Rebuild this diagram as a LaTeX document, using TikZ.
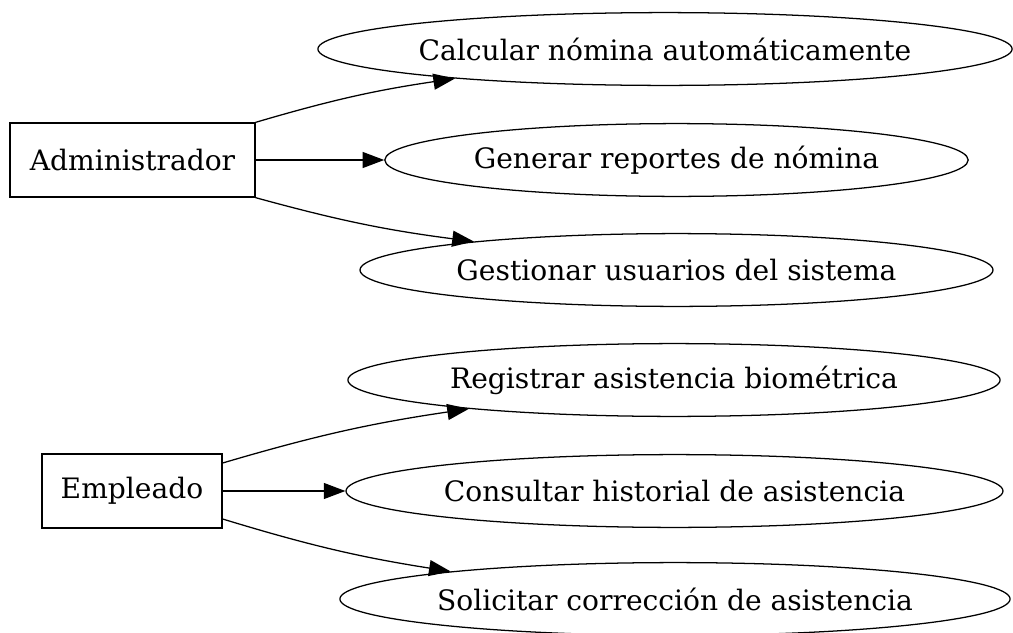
\documentclass[tikz,border=0pt]{standalone}
\usepackage{fontspec}
\setmainfont{DejaVu Serif}
\usetikzlibrary{shapes.geometric,arrows.meta}

\begin{document}
\begin{tikzpicture}[x=0.0125cm,y=-0.0125cm,
  font=\fontsize{10}{12}\selectfont, line width=0.45pt,
  actor/.style={draw, rectangle, inner sep=0pt, minimum height=0.925cm},
  usecase/.style={draw, ellipse, inner xsep=-2pt, inner ysep=0pt, minimum height=0.91cm},
  link/.style={-{Triangle[length=0.27cm,width=0.2cm]}}]
\useasboundingbox (0,0) rectangle (1013,633);

\node[actor, minimum width=3.06cm] (admin) at (132.5,160) {Administrador};
\node[actor, minimum width=2.25cm] (emp) at (132,491) {Empleado};

\node[usecase, minimum width=8.675cm] (calc) at (665,49) {Calcular nómina automáticamente};
\node[usecase, minimum width=7.29cm] (rep) at (676.5,160) {Generar reportes de nómina};
\node[usecase, minimum width=7.91cm] (usr) at (676.5,270) {Gestionar usuarios del sistema};

\node[usecase, minimum width=8.15cm] (reg) at (674,380) {Registrar asistencia biométrica};
\node[usecase, minimum width=8.21cm] (cons) at (674.5,491) {Consultar historial de asistencia};
\node[usecase, minimum width=8.375cm] (sol) at (675,599) {Solicitar corrección de asistencia};

\draw[link] (admin.north east) to[bend left=4] (calc.188.5);
\draw[link] (admin.east) -- (rep.west);
\draw[link] (admin.south east) to[bend right=4] (usr.172);

\draw[link] (emp.east |- 0,463) to[bend left=4] (reg.188.5);
\draw[link] (emp.east) -- (cons.west);
\draw[link] (emp.east |- 0,519) to[bend right=4] (sol.173);
\end{tikzpicture}
\end{document}
